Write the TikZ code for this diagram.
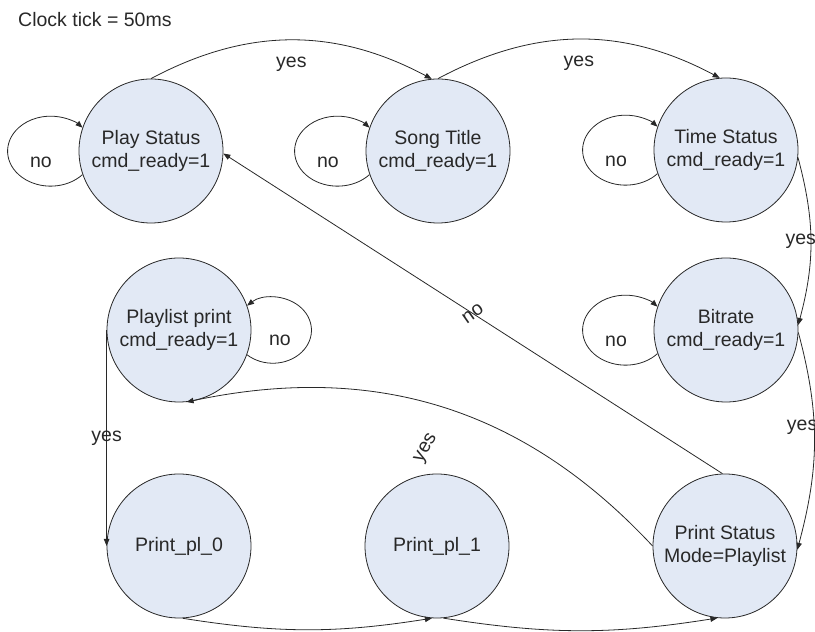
\documentclass[tikz,border=0pt]{standalone}
\usepackage{fontspec}
\setmainfont{Liberation Sans}
\usepackage{xcolor}
\usetikzlibrary{arrows.meta}

\definecolor{StateFill}{RGB}{226,233,245}
\definecolor{InkGray}{RGB}{40,40,40}

\begin{document}
\begin{tikzpicture}[x=1pt,y=1pt,font=\fontsize{19.5}{23.5}\selectfont]
        \tikzset{
            state/.style={circle,draw=InkGray,line width=0.8pt,fill=StateFill,
                minimum size=144pt,inner sep=1pt,align=center,text=InkGray},
            trans/.style={draw=InkGray,line width=0.8pt,-{Triangle[length=7pt,width=5.5pt]}},
            lbl/.style={text=InkGray,inner sep=1pt},
        }
        \newcommand{\NoLoopLeft}[1]{% state name
            \draw[trans] (#1.199) arc[start angle=-42,end angle=-318,x radius=43,y radius=35];
            \node[lbl] (#1-no) at ([shift={(-110,-11)}]#1.center) {no};
        }
        \newcommand{\NoLoopRight}[1]{% state name
            \draw[trans] (#1.-20) arc[start angle=-132,end angle=132,x radius=38.6,y radius=33];
            \node[lbl] (#1-no) at ([shift={(101,-10)}]#1.center) {no};
        }

        \useasboundingbox (0,0) rectangle (815,632);

        \node[lbl,anchor=base west] (tick) at (17,605) {Clock tick = 50ms};

        \node[state] (ps)  at (151,481) {Play Status\\cmd\_ready=1};
        \node[state] (st)  at (438,481) {Song Title\\cmd\_ready=1};
        \node[state] (ts)  at (726,482) {Time Status\\cmd\_ready=1};
        \node[state] (br)  at (726,302) {Bitrate\\cmd\_ready=1};
        \node[state] (pp)  at (179,302) {Playlist print\\cmd\_ready=1};
        \node[state] (pl0) at (179,86)  {Print\_pl\_0};
        \node[state] (pl1) at (437,86)  {Print\_pl\_1};
        \node[state] (pst) at (725,86)  {Print Status\\Mode=Playlist};

        \NoLoopLeft{ps}
        \NoLoopLeft{st}
        \NoLoopLeft{ts}
        \NoLoopLeft{br}
        \NoLoopRight{pp}

        \draw[trans] (ps.north) to[out=28,in=152] node[lbl,yshift=-24] (yes-ps) {yes} (st.95);
        \draw[trans] (st.north) to[out=28,in=152] node[lbl,yshift=-24] (yes-st) {yes} (ts.95);
        \draw[trans] (ts.-6) to[out=-75,in=75] node[lbl,xshift=-10] (yes-ts) {yes} (br.4);
        \draw[trans] (br.-2) to[out=-75,in=75] node[lbl,pos=0.43,xshift=-12] (yes-br) {yes} (pst.-3);
        \draw[trans] (pst.92) -- node[lbl,rotate=35] (no-pst) {no} (ps.-2);
        \draw[trans] (pst.west) to[out=133,in=12]
            node[lbl,pos=0.55,shift={(9,-48)},rotate=60] (yes-pst) {yes} (pp.-84);
        \draw[trans] (pp.west) -- node[lbl] (yes-pp) {yes} (pl0.west);
        \draw[trans] (pl0.-87) to[out=-9,in=189] (pl1.-94);
        \draw[trans] (pl1.-85) to[out=-9,in=189] (pst.-96);
\end{tikzpicture}
\end{document}
